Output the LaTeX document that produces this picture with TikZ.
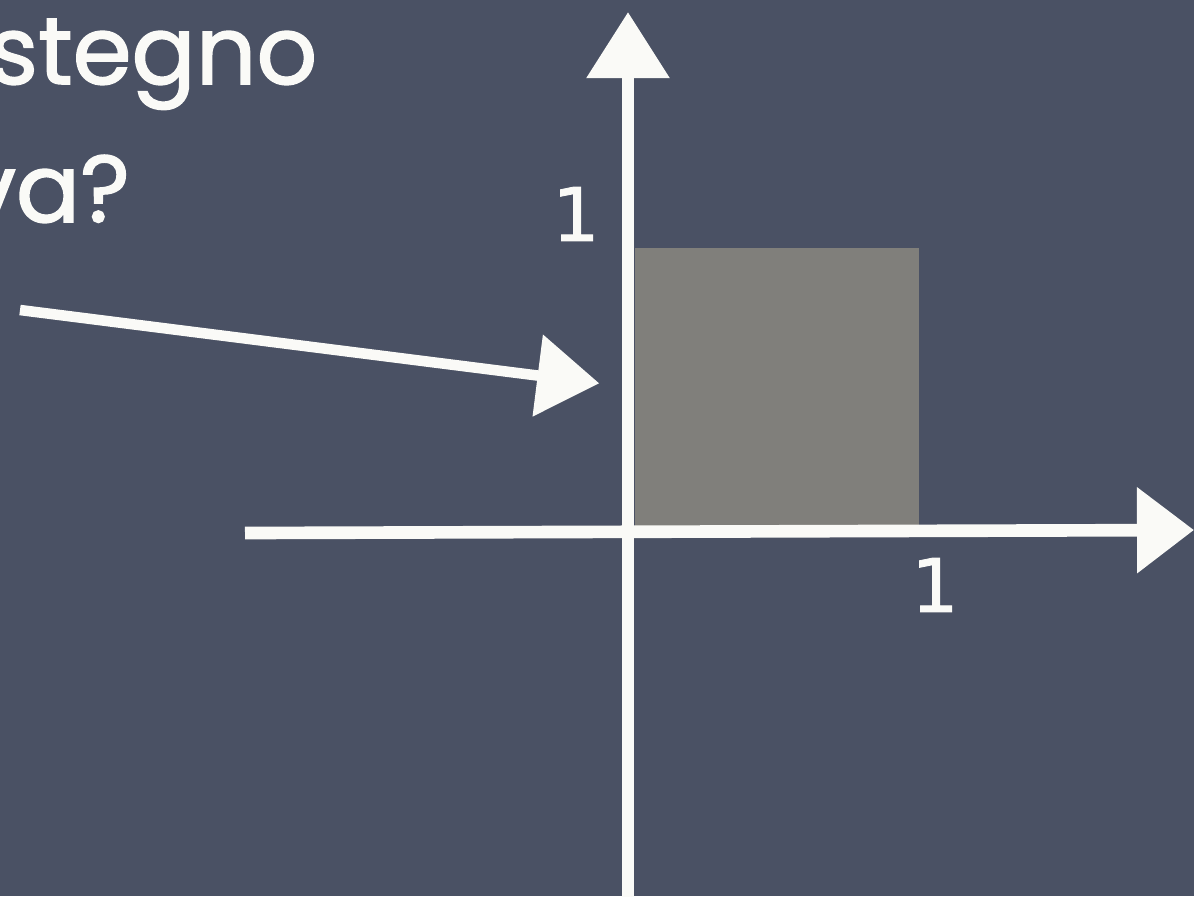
\documentclass[tikz,border=0pt]{standalone}
\usepackage{fontspec}
\setmainfont{Poppins}[FakeBold=1.6]
\newfontfamily\cifre{DejaVu Sans}[FakeBold=1.2]
\usepackage{xcolor}
\usetikzlibrary{arrows.meta, positioning}

\definecolor{lavagna}{RGB}{74,81,100}
\definecolor{gesso}{RGB}{250,250,247}
\definecolor{grigio}{RGB}{128,127,123}

\begin{document}
\begin{tikzpicture}[
    x=0.01cm, y=-0.01cm,
    asse/.style={draw=gesso, line width=3.6pt},
    freccia/.style={draw=gesso, line width=3pt},
    scritta/.style={text=gesso, font=\fontsize{27}{30}\selectfont, inner sep=0pt},
    numero/.style={text=gesso, font=\cifre\fontsize{21}{26}\selectfont, inner sep=0pt},
    area/.style={
        rectangle, fill=grigio,
        minimum width=2.84cm, minimum height=2.79cm,
        inner sep=0pt
    },
]

% Sfondo
\useasboundingbox (0,0) rectangle (1194,896);
\clip (0,0) rectangle (1194,896);
\fill[lavagna] (0,0) rectangle (1194,896);

% Testo
\node[scritta, anchor=base east] (riga1) at (318,84) {stegno};
\node[scritta, anchor=base west] (riga2) at (-38,222) {va?};

% Quadrato
\node[area, anchor=south west] (quadrato) at (634,528) {};

% Punti degli assi
\coordinate (xinizio) at (245,533);
\coordinate (xfine)   at (1194,530);
\coordinate (yinizio) at (628,900);
\coordinate (yfine)   at (628,12);

% Assi
\draw[asse, -{Triangle[length=0.57cm, width=0.83cm]}] (xinizio) -- (xfine);
\draw[asse, -{Triangle[length=0.66cm, width=0.8cm]}] (yinizio) -- (yfine);

% Etichette
\node[numero] (unoy) at (576,214) {1};
\node[numero] (unox) at (935,585) {1};

% Freccia verso il quadrato
\coordinate (pinizio) at (20,310);
\draw[freccia, shorten >=0.35cm, -{Triangle[length=0.62cm, width=0.8cm]}]
    (pinizio) -- (quadrato.west);

\end{tikzpicture}
\end{document}
